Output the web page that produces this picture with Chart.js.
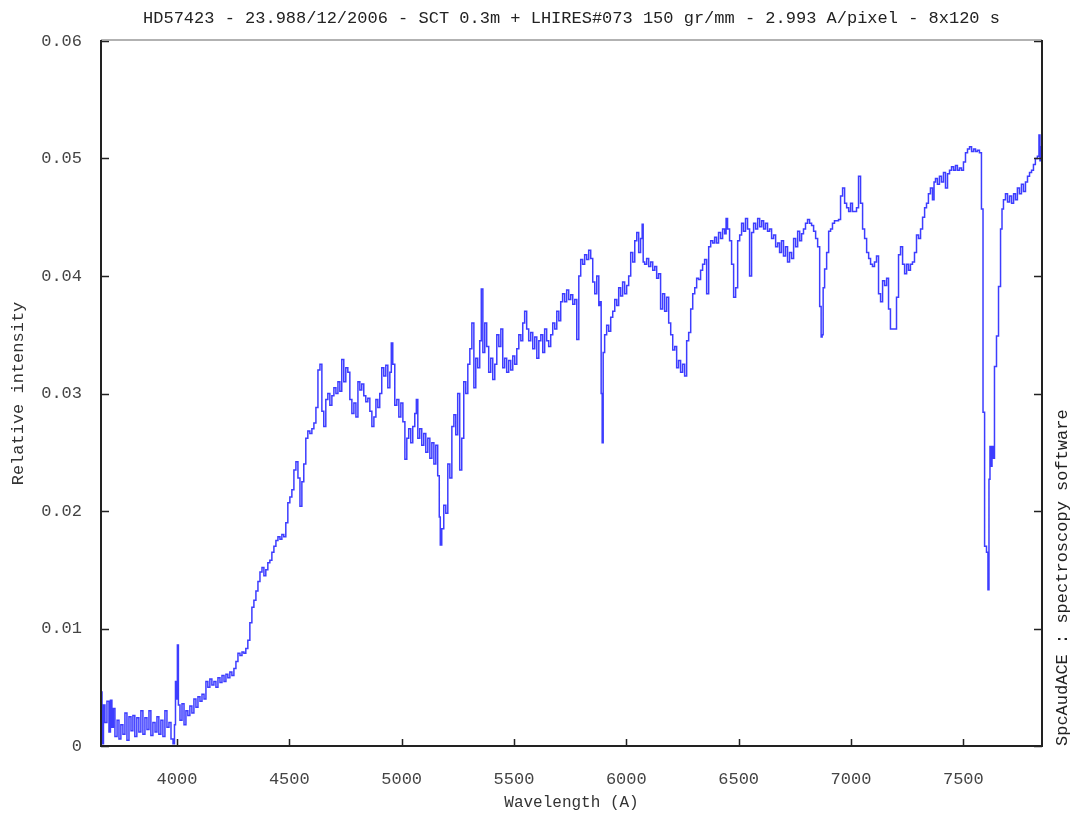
<!DOCTYPE html>
<html>
<head>
<meta charset="utf-8">
<title>HD57423 spectrum</title>
<script src="https://cdn.jsdelivr.net/npm/chart.js@4/dist/chart.umd.min.js"></script>
<style>
  html, body { margin: 0; padding: 0; background: #fff; }
  #wrap { width: 1073px; height: 814px; position: relative; }
</style>
</head>
<body>
<div id="wrap"><canvas id="spec"></canvas></div>
<script>
// spectrum (wavelength in A, relative intensity)
const wavelengths = [
  3662,3671,3675,3684,3693,3702,3706,3715,3719,3729,3738,3746,3755,3764,3773,3782,3791,3800,3808,3817,
  3826,3835,3844,3853,3862,3871,3880,3888,3898,3907,3915,3924,3933,3942,3951,3960,3969,3978,3987,3991,
  3996,4000,4004,4009,4018,4027,4036,4044,4053,4062,4071,4080,4089,4098,4107,4116,4125,4133,4142,4151,
  4160,4169,4178,4187,4196,4205,4214,4222,4231,4240,4249,4258,4267,4276,4285,4294,4302,4311,4320,4329,
  4338,4347,4356,4365,4374,4383,4391,4400,4409,4418,4427,4436,4445,4454,4463,4471,4480,4489,4498,4507,
  4516,4525,4534,4543,4552,4560,4569,4578,4587,4596,4605,4614,4623,4632,4641,4649,4658,4667,4676,4685,
  4694,4703,4712,4721,4729,4738,4747,4756,4765,4774,4783,4792,4801,4810,4818,4827,4836,4845,4854,4863,
  4872,4881,4890,4898,4907,4916,4925,4934,4943,4952,4956,4965,4974,4983,4992,5001,5010,5019,5027,5036,
  5045,5054,5063,5068,5076,5085,5094,5103,5112,5121,5130,5139,5148,5156,5165,5170,5174,5183,5192,5201,
  5210,5219,5228,5237,5245,5254,5263,5272,5281,5290,5299,5308,5317,5326,5334,5343,5352,5357,5366,5374,
  5383,5392,5401,5410,5419,5428,5437,5446,5454,5463,5472,5481,5490,5499,5508,5517,5526,5535,5543,5552,
  5561,5570,5579,5588,5597,5606,5615,5624,5632,5641,5650,5659,5668,5677,5686,5695,5704,5712,5721,5730,
  5739,5748,5757,5766,5775,5784,5793,5801,5810,5819,5828,5837,5846,5855,5864,5873,5882,5886,5890,5895,
  5899,5908,5917,5926,5935,5944,5953,5962,5970,5979,5988,5997,6006,6015,6024,6033,6042,6051,6059,6068,
  6073,6077,6086,6095,6104,6113,6122,6131,6139,6148,6157,6166,6175,6184,6193,6202,6211,6220,6228,6237,
  6246,6255,6264,6273,6282,6291,6300,6309,6317,6326,6335,6344,6353,6362,6371,6380,6389,6397,6406,6415,
  6424,6433,6442,6446,6455,6464,6473,6482,6491,6500,6509,6517,6526,6535,6544,6553,6562,6571,6580,6589,
  6598,6607,6615,6624,6633,6642,6651,6660,6669,6678,6686,6695,6704,6713,6722,6731,6740,6749,6758,6767,
  6776,6784,6793,6802,6811,6820,6829,6838,6847,6856,6865,6869,6874,6878,6887,6896,6905,6913,6922,6931,
  6940,6949,6958,6967,6976,6985,6994,7002,7011,7020,7029,7038,7047,7056,7065,7074,7083,7091,7100,7109,
  7118,7127,7136,7145,7154,7163,7171,7180,7189,7198,7207,7216,7225,7234,7243,7252,7260,7269,7278,7287,
  7296,7305,7314,7323,7332,7340,7349,7358,7367,7372,7380,7389,7398,7407,7416,7425,7434,7443,7452,7461,
  7469,7478,7487,7496,7505,7514,7523,7532,7541,7550,7558,7567,7576,7585,7590,7599,7607,7612,7616,7621,
  7625,7630,7634,7643,7652,7661,7670,7674,7683,7692,7701,7710,7719,7728,7736,7745,7754,7763,7772,7781,
  7790,7799,7808,7816,7825,7834,7839,7843,7848
];
const intensity = [
  .0046,.0002,.0035,.0020,.0038,.0012,.0039,.0016,.0032,.0008,.0022,.0006,.0018,.0010,.0028,.0005,.0025,.0013,.0026,.0008,
  .0024,.0012,.0030,.0010,.0024,.0014,.0030,.0009,.0020,.0012,.0025,.0010,.0022,.0008,.0030,.0016,.0020,.0006,.0002,.0018,
  .0055,.0040,.0086,.0035,.0022,.0036,.0018,.0030,.0026,.0034,.0028,.0040,.0033,.0042,.0038,.0044,.0040,.0055,.0050,.0057,
  .0052,.0055,.0050,.0058,.0054,.0060,.0055,.0061,.0058,.0063,.0060,.0066,.0072,.0079,.0077,.0080,.0079,.0083,.0090,.0105,
  .0118,.0124,.0132,.0140,.0148,.0152,.0145,.0150,.0156,.0158,.0165,.0170,.0175,.0178,.0176,.0180,.0178,.0190,.0207,.0212,
  .0218,.0235,.0242,.0228,.0204,.0225,.0240,.0262,.0268,.0266,.0270,.0275,.0288,.0320,.0325,.0285,.0272,.0295,.0300,.0290,
  .0298,.0305,.0300,.0310,.0302,.0329,.0310,.0322,.0318,.0295,.0283,.0292,.0280,.0310,.0303,.0308,.0298,.0293,.0296,.0285,
  .0272,.0280,.0295,.0288,.0300,.0322,.0315,.0324,.0305,.0318,.0343,.0325,.0290,.0295,.0280,.0292,.0276,.0244,.0262,.0270,
  .0258,.0272,.0283,.0295,.0262,.0270,.0256,.0266,.0250,.0262,.0245,.0258,.0240,.0256,.0230,.0195,.0171,.0185,.0205,.0198,
  .0240,.0228,.0272,.0282,.0265,.0300,.0235,.0262,.0310,.0300,.0325,.0338,.0360,.0305,.0330,.0322,.0345,.0389,.0335,.0360,
  .0340,.0318,.0330,.0312,.0325,.0350,.0340,.0355,.0322,.0330,.0318,.0328,.0320,.0332,.0325,.0338,.0350,.0345,.0360,.0370,
  .0355,.0345,.0352,.0338,.0348,.0330,.0345,.0350,.0335,.0355,.0345,.0340,.0350,.0360,.0355,.0370,.0362,.0378,.0385,.0378,
  .0388,.0380,.0384,.0376,.0380,.0346,.0400,.0414,.0410,.0418,.0414,.0422,.0415,.0395,.0385,.0400,.0375,.0378,.0300,.0258,
  .0335,.0350,.0358,.0353,.0365,.0370,.0380,.0375,.0390,.0383,.0395,.0385,.0392,.0400,.0420,.0412,.0430,.0437,.0420,.0432,
  .0444,.0412,.0410,.0415,.0408,.0412,.0405,.0408,.0398,.0402,.0372,.0385,.0370,.0382,.0360,.0350,.0337,.0340,.0322,.0328,
  .0318,.0325,.0315,.0345,.0352,.0372,.0385,.0390,.0398,.0397,.0405,.0410,.0414,.0385,.0425,.0430,.0428,.0433,.0428,.0437,
  .0432,.0440,.0436,.0449,.0440,.0430,.0410,.0382,.0390,.0430,.0435,.0445,.0438,.0449,.0440,.0400,.0437,.0445,.0440,.0449,
  .0442,.0447,.0440,.0445,.0438,.0440,.0432,.0435,.0425,.0428,.0420,.0430,.0417,.0425,.0412,.0420,.0415,.0432,.0425,.0438,
  .0430,.0436,.0440,.0445,.0448,.0445,.0443,.0438,.0432,.0425,.0374,.0348,.0350,.0390,.0406,.0420,.0438,.0440,.0445,.0447,
  .0447,.0448,.0468,.0475,.0462,.0458,.0455,.0462,.0455,.0455,.0458,.0485,.0462,.0440,.0432,.0420,.0415,.0410,.0408,.0412,
  .0417,.0385,.0378,.0396,.0392,.0398,.0372,.0355,.0355,.0355,.0382,.0418,.0425,.0410,.0402,.0410,.0405,.0410,.0412,.0420,
  .0435,.0432,.0440,.0450,.0458,.0462,.0470,.0475,.0465,.0480,.0483,.0478,.0485,.0480,.0488,.0475,.0487,.0490,.0493,.0490,
  .0494,.0490,.0492,.0490,.0497,.0505,.0508,.0510,.0506,.0508,.0506,.0507,.0505,.0457,.0284,.0170,.0165,.0133,.0227,.0255,
  .0238,.0255,.0245,.0323,.0349,.0391,.0440,.0457,.0465,.0470,.0463,.0468,.0462,.0470,.0465,.0475,.0470,.0478,.0472,.0480,
  .0485,.0488,.0490,.0495,.0500,.0502,.0520,.0498,.0510
];
const xTicks = [4000, 4500, 5000, 5500, 6000, 6500, 7000, 7500];
const yTicks = [0, 0.01, 0.02, 0.03, 0.04, 0.05, 0.06];

const titleText = 'HD57423 - 23.988/12/2006 - SCT 0.3m + LHIRES#073 150 gr/mm - 2.993 A/pixel - 8x120 s';
const sideText = 'SpcAudACE : spectroscopy software';
const mono = "'Liberation Mono', 'DejaVu Sans Mono', monospace";

const points = wavelengths.map((w, i) => ({ x: w, y: intensity[i] }));

// frame, inward ticks, title and side caption
const framePlugin = {
  id: 'frame',
  afterDraw(chart) {
    const { ctx, chartArea: a, scales: { x, y } } = chart;
    ctx.save();
    ctx.strokeStyle = '#222';
    ctx.lineWidth = 1.5;
    ctx.beginPath();
    xTicks.forEach(v => {
      const px = Math.round(x.getPixelForValue(v)) + 0.5;
      ctx.moveTo(px, a.bottom); ctx.lineTo(px, a.bottom - 7);
    });
    yTicks.forEach(v => {
      const py = Math.round(y.getPixelForValue(v)) + 0.5;
      ctx.moveTo(a.left, py); ctx.lineTo(a.left + 8, py);
      ctx.moveTo(a.right, py); ctx.lineTo(a.right - 8, py);
    });
    ctx.stroke();

    ctx.strokeStyle = '#999';
    ctx.lineWidth = 1.5;
    ctx.beginPath();
    ctx.moveTo(a.left, a.top - 1); ctx.lineTo(a.right, a.top - 1);
    ctx.stroke();

    ctx.strokeStyle = '#222';
    ctx.lineWidth = 2;
    ctx.beginPath();
    ctx.moveTo(a.left, a.top - 1); ctx.lineTo(a.left, a.bottom);
    ctx.lineTo(a.right, a.bottom); ctx.lineTo(a.right, a.top - 1);
    ctx.stroke();

    ctx.fillStyle = '#222';
    ctx.font = '17px ' + mono;
    ctx.textAlign = 'center';
    ctx.textBaseline = 'middle';
    ctx.fillText(titleText, (a.left + a.right) / 2, 18);

    ctx.translate(1062, a.bottom);
    ctx.rotate(-Math.PI / 2);
    ctx.textAlign = 'left';
    ctx.fillText(sideText, 0, 0);
    ctx.restore();
  }
};

new Chart(document.getElementById('spec'), {
  type: 'line',
  data: {
    datasets: [{
      data: points,
      borderColor: '#3d3dff',
      borderWidth: 1.5,
      pointRadius: 0,
      stepped: 'middle',
      fill: false
    }]
  },
  options: {
    responsive: true,
    maintainAspectRatio: false,
    animation: false,
    events: [],
    layout: { padding: { top: 41, right: 31, left: 0, bottom: 0 } },
    plugins: { legend: { display: false }, tooltip: { enabled: false } },
    scales: {
      x: {
        type: 'linear',
        min: 3662,
        max: 7850,
        grid: { display: false },
        border: { display: false },
        afterBuildTicks: s => { s.ticks = xTicks.map(v => ({ value: v })); },
        afterFit: s => { s.height = 68; },
        ticks: {
          padding: 15,
          color: '#444',
          font: { family: mono, size: 17 },
          callback: v => String(v)
        },
        title: {
          display: true,
          text: 'Wavelength (A)',
          color: '#333',
          font: { family: mono, size: 16 },
          padding: { top: 0, bottom: 2 }
        }
      },
      y: {
        min: 0,
        max: 0.06,
        grid: { display: false },
        border: { display: false },
        afterBuildTicks: s => { s.ticks = yTicks.map(v => ({ value: v })); },
        afterFit: s => { s.width = 101; },
        ticks: {
          padding: 11,
          color: '#444',
          font: { family: mono, size: 17 },
          callback: v => v === 0 ? '0' : v.toFixed(2)
        },
        title: {
          display: true,
          text: 'Relative intensity',
          color: '#333',
          font: { family: mono, size: 17 },
          padding: { top: 8, bottom: 0 }
        }
      }
    }
  },
  plugins: [framePlugin]
});
</script>
</body>
</html>
